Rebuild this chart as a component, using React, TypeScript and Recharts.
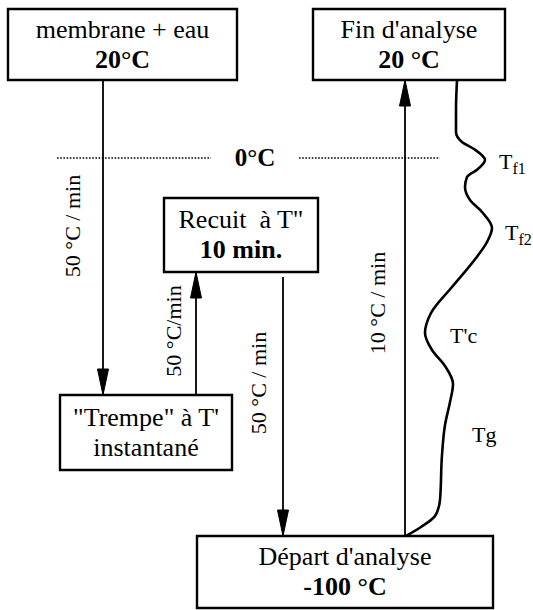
import React from 'react';
import { ComposedChart, XAxis, YAxis, ReferenceArea, ReferenceLine, Line, Scatter } from 'recharts';

const FONT = '"Liberation Serif", "Times New Roman", serif';

// Diagram coordinates (x: horizontal position, y: vertical position, top = 0)
const boxes = [
  { id: 'start', x1: 8, x2: 237, y1: 9, y2: 80, line1: 'membrane + eau', line2: '20°C', bold2: true },
  { id: 'end', x1: 313, x2: 505, y1: 9, y2: 80, line1: "Fin d'analyse", line2: '20 °C', bold2: true },
  { id: 'recuit', x1: 164, x2: 318, y1: 198, y2: 272, line1: 'Recuit  à T"', line2: '10 min.', bold2: true },
  { id: 'trempe', x1: 60, x2: 232, y1: 395, y2: 470, line1: '"Trempe" à T\'', line2: 'instantané', bold2: false },
  { id: 'depart', x1: 197, x2: 493, y1: 536, y2: 608, line1: "Départ d'analyse", line2: '-100 °C', bold2: true },
];

const links = [
  { x: 103, from: 80, to: 395, dir: 'down' },
  { x: 196, from: 395, to: 272, dir: 'up' },
  { x: 283, from: 277, to: 536, dir: 'down' },
  { x: 405, from: 536, to: 80, dir: 'up' },
];

const arrowTips = links.map((l) => ({ x: l.x, y: l.to, dir: l.dir }));

const zeroLine = [
  { y: 158, x1: 57, x2: 211 },
  { y: 158, x1: 299, x2: 440 },
];

const zeroLabel = [{ x: 255, y: 158, text: '0°C' }];

const rateLabels = [
  { x: 72, y: 226, text: '50 °C / min' },
  { x: 173, y: 331, text: '50 °C/min' },
  { x: 258, y: 383, text: '50 °C / min' },
  { x: 377, y: 303, text: '10 °C / min' },
];

const thermogram = [
  { x: 457, y: 80 },
  { x: 456, y: 110 },
  { x: 456, y: 132 },
  { x: 462, y: 142 },
  { x: 474, y: 149 },
  { x: 485, y: 160 },
  { x: 478, y: 169 },
  { x: 467, y: 177 },
  { x: 465, y: 187 },
  { x: 470, y: 200 },
  { x: 482, y: 212 },
  { x: 492, y: 228 },
  { x: 487, y: 242 },
  { x: 476, y: 258 },
  { x: 452, y: 287 },
  { x: 431, y: 313 },
  { x: 425, y: 333 },
  { x: 432, y: 350 },
  { x: 445, y: 366 },
  { x: 453, y: 384 },
  { x: 450, y: 402 },
  { x: 445, y: 425 },
  { x: 442, y: 455 },
  { x: 440, y: 500 },
  { x: 435, y: 516 },
  { x: 421, y: 527 },
  { x: 406, y: 536 },
];

const transitions = [
  { x: 499, y: 162, main: 'T', sub: 'f1' },
  { x: 505, y: 233, main: 'T', sub: 'f2' },
  { x: 450, y: 336, main: "T'c", sub: '' },
  { x: 472, y: 435, main: 'Tg', sub: '' },
];

const BoxLabel = (props: any) => {
  const { viewBox, box } = props;
  if (!viewBox) return null;
  const cx = viewBox.x + viewBox.width / 2;
  const cy = viewBox.y + viewBox.height / 2;
  return (
    <g style={{ fontFamily: FONT }} fontSize={26} fill="#000">
      <text x={cx} y={cy - 7} textAnchor="middle" style={{ whiteSpace: 'pre', fontFamily: FONT }}>{box.line1}</text>
      <text x={cx} y={cy + 23} textAnchor="middle" style={{ fontFamily: FONT }} fontWeight={box.bold2 ? 'bold' : 'normal'}>{box.line2}</text>
    </g>
  );
};

const ArrowHead = (props: any) => {
  const { cx, cy, payload } = props;
  const len = 26;
  const hw = 5.5;
  const s = payload.dir === 'down' ? -1 : 1;
  const pts = `${cx},${cy} ${cx - hw},${cy + s * len} ${cx + hw},${cy + s * len}`;
  return <polygon points={pts} fill="#000" stroke="#000" strokeWidth={1} />;
};

const RateText = (props: any) => {
  const { cx, cy, payload } = props;
  return (
    <text
      x={cx}
      y={cy}
      transform={`rotate(-90 ${cx} ${cy})`}
      textAnchor="middle"
      dominantBaseline="central"
      style={{ fontFamily: FONT }}
      fontSize={22}
      fill="#000"
    >
      {payload.text}
    </text>
  );
};

const ZeroText = (props: any) => {
  const { cx, cy, payload } = props;
  return (
    <text x={cx} y={cy + 8} textAnchor="middle" style={{ fontFamily: FONT }} fontSize={25} fontWeight="bold" fill="#000">
      {payload.text}
    </text>
  );
};

const TransitionText = (props: any) => {
  const { cx, cy, payload } = props;
  return (
    <text x={cx} y={cy + 7} textAnchor="start" style={{ fontFamily: FONT }} fontSize={22} fill="#000">
      {payload.main}
      {payload.sub ? (
        <tspan fontSize={16} dy={5}>{payload.sub}</tspan>
      ) : null}
    </text>
  );
};

export default function App() {
  return (
    <div style={{ position: 'absolute', left: 0, top: 0, background: '#fff' }}>
      <ComposedChart width={533} height={610} margin={{ top: 0, right: 0, bottom: 0, left: 0 }}>
        <XAxis type="number" dataKey="x" domain={[0, 533]} allowDataOverflow hide />
        <YAxis type="number" dataKey="y" domain={[0, 610]} allowDataOverflow reversed hide />

        {zeroLine.map((d, i) => (
          <ReferenceLine
            key={'z' + i}
            segment={[{ x: d.x1, y: d.y }, { x: d.x2, y: d.y }]}
            stroke="#000"
            strokeWidth={1.6}
            strokeDasharray="1.6 1.6"
            ifOverflow="visible"
          />
        ))}

        {links.map((l, i) => (
          <ReferenceLine
            key={'l' + i}
            segment={[{ x: l.x, y: l.from }, { x: l.x, y: l.to }]}
            stroke="#000"
            strokeWidth={1.8}
            ifOverflow="visible"
          />
        ))}

        <Line
          data={thermogram}
          dataKey="y"
          type="monotoneY"
          stroke="#000"
          strokeWidth={2.6}
          dot={false}
          activeDot={false}
          isAnimationActive={false}
        />

        {boxes.map((b) => (
          <ReferenceArea
            key={b.id}
            x1={b.x1}
            x2={b.x2}
            y1={b.y1}
            y2={b.y2}
            fill="#fff"
            fillOpacity={1}
            stroke="#000"
            strokeWidth={2.4}
            ifOverflow="visible"
            label={(p: any) => <BoxLabel {...p} box={b} />}
          />
        ))}

        <Scatter data={arrowTips} shape={<ArrowHead />} isAnimationActive={false} />
        <Scatter data={zeroLabel} shape={<ZeroText />} isAnimationActive={false} />
        <Scatter data={rateLabels} shape={<RateText />} isAnimationActive={false} />
        <Scatter data={transitions} shape={<TransitionText />} isAnimationActive={false} />
      </ComposedChart>
    </div>
  );
}
